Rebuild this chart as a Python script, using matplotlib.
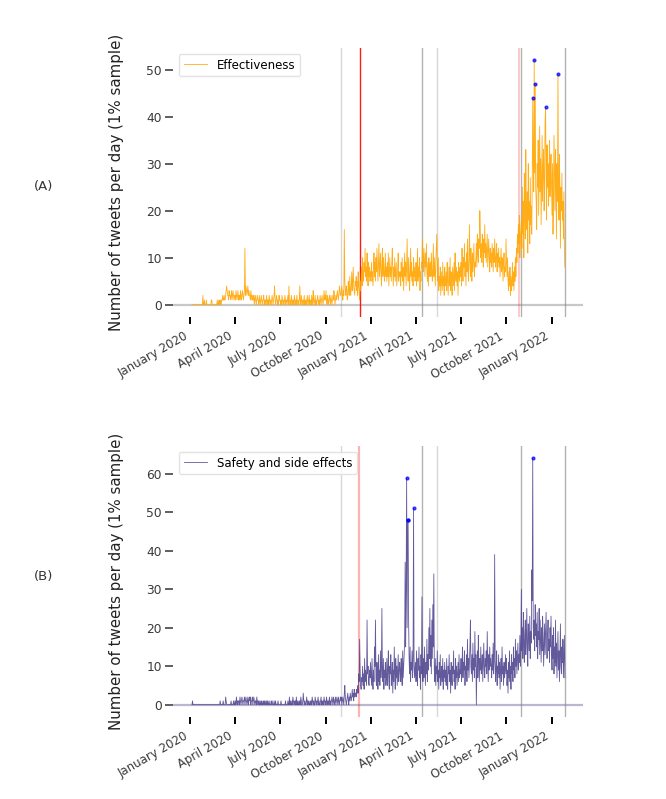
import pandas as pd
import matplotlib
matplotlib.use('Agg')
import matplotlib.pyplot as plt
import matplotlib.dates as mdates

# tweets per day (1% sample), one list per month, 2020-01-05 .. 2022-01-28
eff_jan20 = [0,0,0,0,0,0,0,0,0,0,0,0,0,0,0,0,0,0,0,0,0,0,2,0,0,1,0]
eff_feb20 = [0,0,1,0,0,0,0,0,0,0,0,0,1,1,0,0,0,0,0,0,0,0,0,0,1,0,0,1,0]
eff_mar20 = [1,0,1,0,1,1,2,1,1,2,1,1,2,3,4,3,2,2,1,3,2,2,1,2,3,1,2,3,2,1,2]
eff_apr20 = [2,1,3,2,1,2,3,1,2,2,1,3,2,1,2,3,2,1,2,3,12,2,4,3,2,3,4,2,3,2]
eff_may20 = [2,1,3,2,1,2,1,1,2,0,1,2,1,0,1,2,1,1,0,2,1,0,1,2,1,0,1,1,2,0,1]
eff_jun20 = [1,0,1,2,0,1,1,0,2,1,0,1,0,1,2,1,0,1,2,4,1,0,1,2,1,0,1,0,2,1]
eff_jul20 = [1,0,1,0,2,1,0,1,0,1,2,0,1,1,0,1,2,0,4,1,0,1,0,2,1,0,1,1,0,2,1]
eff_aug20 = [0,1,0,2,1,0,1,0,1,4,1,0,2,1,0,1,0,1,2,0,1,0,1,0,2,1,0,1,2,0,1]
eff_sep20 = [1,0,2,1,0,3,1,0,1,2,0,1,0,1,2,1,0,1,0,2,1,0,1,2,1,0,1,3,1,2]
eff_oct20 = [1,3,1,0,2,1,0,1,2,1,0,2,1,0,1,2,1,3,2,0,1,2,1,2,3,2,1,2,4,3,2]
eff_nov20 = [2,3,4,2,1,3,2,16,5,3,2,4,3,1,2,5,3,2,6,3,2,4,7,3,5,8,4,3,2,5]
eff_dec20 = [4,6,3,5,2,7,4,3,1,5,3,6,8,4,10,6,5,9,7,12,6,8,5,11,7,4,9,6,8,5,7]
eff_jan21 = [6,9,5,7,4,8,11,6,9,5,10,7,12,8,5,9,13,6,8,11,7,4,9,12,6,10,8,5,7,11,6]
eff_feb21 = [8,5,9,6,11,4,7,10,6,8,5,9,12,7,4,8,6,10,5,7,9,4,6,8,11,5,7,6]
eff_mar21 = [7,4,9,6,10,5,8,3,7,11,6,9,4,8,14,7,5,10,6,3,8,12,6,9,5,7,4,10,6,8,5]
eff_apr21 = [6,9,4,7,12,5,8,6,10,3,7,5,9,8,14,10,7,12,9,6,11,8,13,7,5,9,4,10,6,8]
eff_may21 = [9,6,11,7,5,8,13,6,10,7,4,9,12,15,8,5,10,3,6,4,8,2,7,5,3,9,4,6,2,8,5]
eff_jun21 = [4,7,3,9,5,2,6,8,4,10,3,7,5,2,8,6,4,9,3,11,6,5,8,4,7,2,9,6,5,8]
eff_jul21 = [6,9,4,12,7,5,10,8,13,6,9,4,11,7,14,8,5,10,17,9,6,12,8,5,11,7,10,13,6,9,8]
eff_aug21 = [10,13,8,15,11,9,14,12,20,16,10,13,9,15,12,8,14,11,17,10,13,9,12,15,8,11,14,10,7,12,9]
eff_sep21 = [11,8,13,10,7,12,9,14,11,8,10,13,7,11,9,12,8,10,6,9,12,7,10,8,5,9,11,6,8,7]
eff_oct21 = [14,9,6,10,5,3,7,4,8,2,6,3,5,9,4,7,3,8,5,10,6,12,9,15,11,17,13,19,10,14,16]
eff_nov21 = [18,12,25,15,22,10,28,19,14,33,20,16,24,11,30,18,22,13,27,17,21,15,26,44,30,24,52,28,47,25]
eff_dec21 = [22,16,30,25,35,19,28,38,24,31,17,27,36,22,29,33,20,26,39,42,28,18,34,25,30,21,27,35,23,29,32]
eff_jan22 = [26,19,30,15,24,36,28,20,33,25,14,30,22,49,27,18,32,24,12,25,20,28,18,22,14,24,12,8]

saf_jan20 = [0,1,0,0,0,0,0,0,0,0,0,0,0,0,0,0,0,0,0,0,0,0,0,0,0,0,0]
saf_feb20 = [0,0,0,0,0,0,0,0,0,0,0,0,0,0,0,0,0,0,0,0,0,0,0,0,0,0,0,0,0]
saf_mar20 = [0,1,0,0,0,0,0,1,0,0,0,0,2,1,0,0,0,0,0,0,0,0,0,1,0,0,0,0,1,0,0]
saf_apr20 = [1,0,1,2,0,1,0,1,1,0,2,1,0,1,2,1,0,1,1,2,0,1,2,1,0,1,2,0,1,2]
saf_may20 = [1,2,0,1,1,2,0,1,2,1,0,1,1,0,2,1,0,1,0,1,0,0,1,0,1,0,0,1,0,1,0]
saf_jun20 = [1,0,0,1,0,1,0,0,1,0,0,0,1,0,1,0,0,0,1,0,0,1,0,0,0,0,1,0,0,0]
saf_jul20 = [0,0,1,0,0,0,0,0,0,0,0,1,0,0,0,0,1,0,0,2,0,1,0,0,1,0,2,1,0,1,0]
saf_aug20 = [1,0,2,0,1,0,0,1,0,1,0,2,1,0,0,1,3,1,0,1,0,0,1,2,0,1,0,1,0,0,1]
saf_sep20 = [0,1,0,2,1,0,1,0,0,2,1,0,1,0,1,2,0,1,0,0,1,2,0,1,0,1,0,2,1,0]
saf_oct20 = [1,0,2,1,0,1,0,1,2,0,1,0,1,2,1,0,2,1,0,1,2,0,1,2,1,0,2,1,0,1,2]
saf_nov20 = [1,2,0,1,2,1,0,3,5,2,1,0,1,2,3,1,0,2,1,3,2,1,2,4,2,3,1,4,2,3]
saf_dec20 = [3,2,4,3,5,3,8,6,17,9,5,4,7,6,10,5,8,4,12,6,9,7,5,22,8,10,6,5,9,7,11]
saf_jan21 = [8,5,12,7,4,9,6,15,10,22,7,5,11,8,4,13,6,9,5,14,7,10,25,8,6,12,4,9,7,11,5]
saf_feb21 = [7,12,5,9,14,6,4,10,8,13,5,7,11,3,9,6,15,8,4,12,7,10,5,9,13,6,8,11]
saf_mar21 = [9,6,12,8,5,14,7,10,13,17,37,15,30,59,20,48,48,22,12,8,15,6,11,9,14,7,10,51,12,7,9]
saf_apr21 = [11,6,14,8,5,12,9,15,7,10,4,13,8,28,9,6,12,7,15,10,5,11,8,17,6,13,9,20,12,25]
saf_may21 = [10,18,8,22,12,26,15,34,9,6,12,5,10,8,14,6,9,4,11,7,13,5,8,10,6,12,4,9,7,11,6]
saf_jun21 = [9,5,12,7,4,10,8,13,6,9,3,11,7,5,10,8,14,6,9,4,12,7,10,5,8,11,6,13,7,9]
saf_jul21 = [8,12,6,10,15,7,11,9,14,5,10,8,13,6,17,9,12,7,11,15,22,10,8,13,6,16,9,12,7,19,10]
saf_aug21 = [13,0,9,14,7,18,11,6,12,9,15,8,10,13,6,11,16,9,7,12,10,14,8,19,11,6,13,9,15,10,12]
saf_sep21 = [10,7,13,9,16,8,11,39,12,6,9,14,5,10,8,13,7,11,4,9,12,6,15,8,10,5,11,7,9,13]
saf_oct21 = [8,12,5,9,3,11,7,14,6,10,4,13,8,11,6,15,9,12,7,17,10,14,8,12,16,9,13,11,18,10,15]
saf_nov21 = [30,14,20,12,24,16,11,19,22,13,17,25,15,10,21,18,14,23,12,19,16,35,27,64,20,17,22,14,26,18]
saf_dec21 = [21,15,24,12,19,17,25,13,22,16,11,20,14,23,18,10,15,21,13,19,24,16,12,18,22,14,17,11,20,15,23]
saf_jan22 = [14,9,18,12,20,8,15,11,22,10,16,7,13,19,9,14,6,12,21,10,8,15,11,17,7,13,18,7]

eff_peaks = ['2021-11-24', '2021-11-27', '2021-11-29', '2021-12-20', '2022-01-14']
saf_peaks = ['2021-03-14', '2021-03-16', '2021-03-17', '2021-03-28', '2021-11-24']

tick_dates = pd.date_range('2020-01-01', '2022-01-01', freq='QS')

days = pd.date_range('2020-01-05', '2022-01-28', freq='D')
eff = pd.Series(eff_jan20 + eff_feb20 + eff_mar20 + eff_apr20 + eff_may20 + eff_jun20
                + eff_jul20 + eff_aug20 + eff_sep20 + eff_oct20 + eff_nov20 + eff_dec20
                + eff_jan21 + eff_feb21 + eff_mar21 + eff_apr21 + eff_may21 + eff_jun21
                + eff_jul21 + eff_aug21 + eff_sep21 + eff_oct21 + eff_nov21 + eff_dec21
                + eff_jan22, index=days)
saf = pd.Series(saf_jan20 + saf_feb20 + saf_mar20 + saf_apr20 + saf_may20 + saf_jun20
                + saf_jul20 + saf_aug20 + saf_sep20 + saf_oct20 + saf_nov20 + saf_dec20
                + saf_jan21 + saf_feb21 + saf_mar21 + saf_apr21 + saf_may21 + saf_jun21
                + saf_jul21 + saf_aug21 + saf_sep21 + saf_oct21 + saf_nov21 + saf_dec21
                + saf_jan22, index=days)


def style_axis(ax, ymax, ytop, zero_col):
    '''axes sans cadre, ticks façon seaborn'''
    for s in ax.spines.values():
        s.set_visible(False)
    ax.axhline(0, color=zero_col, lw=1.6, zorder=0)
    t0 = mdates.date2num(pd.Timestamp('2020-01-01'))
    ppd = 181 / 366.0
    ax.set_xlim(t0 - 17 / ppd, t0 + 393 / ppd)
    ax.set_ylim(-ytop * 0.05, ytop * 1.05)
    ax.set_xticks(tick_dates)
    ax.set_xticklabels([d.strftime('%B %Y') for d in tick_dates], rotation=30, ha='right',
                       fontsize=8.5, color='#3a3a3a')
    ax.set_yticks(range(0, ymax + 1, 10))
    ax.tick_params(axis='y', length=6, width=1.1, color='#333333', labelsize=8.8,
                   labelcolor='#3a3a3a', pad=2)
    ax.tick_params(axis='x', length=5, width=1.4, color='black', pad=4)
    ax.set_ylabel('Number of tweets per day (1% sample)', fontsize=10.8, color='#222222')
    ax.yaxis.set_label_coords(-0.12, 0.5)


fig = plt.figure(figsize=(6.66, 7.99), dpi=100)
ax1 = fig.add_axes([0.2598, 0.6033, 0.6156, 0.3367])
ax2 = fig.add_axes([0.2598, 0.1026, 0.6156, 0.3392])

# (A) efficacité
style_axis(ax1, 50, 52, '#c8c8c8')
ax1.axvline(pd.Timestamp('2020-11-02'), color='gray', alpha=0.3, lw=1)
ax1.axvline(pd.Timestamp('2020-12-10'), color='red', alpha=0.9, lw=1)
ax1.axvline(pd.Timestamp('2021-04-14'), color='gray', alpha=0.6, lw=1)
ax1.axvline(pd.Timestamp('2021-05-14'), color='gray', alpha=0.3, lw=1)
ax1.axvline(pd.Timestamp('2021-10-27'), color='red', alpha=0.25, lw=1.2)
ax1.axvline(pd.Timestamp('2021-10-31'), color='gray', alpha=0.6, lw=1)
ax1.axvline(pd.Timestamp('2022-01-28'), color='gray', alpha=0.6, lw=1)
ax1.plot(eff.index, eff.values, color='orange', lw=0.6, alpha=0.9, label='Effectiveness')
pk = pd.to_datetime(eff_peaks)
ax1.plot(pk, eff.loc[pk].values, 'o', color='blue', ms=2, alpha=0.7)
leg = ax1.legend(loc='upper left', fontsize=8.5)
leg.get_frame().set_edgecolor('#dddddd')

# (B) sécurité et effets secondaires
style_axis(ax2, 60, 64, '#b8b8d0')
ax2.axvline(pd.Timestamp('2020-11-02'), color='gray', alpha=0.3, lw=1)
ax2.axvline(pd.Timestamp('2020-12-07'), color='red', alpha=0.3, lw=1.6)
ax2.axvline(pd.Timestamp('2021-04-14'), color='gray', alpha=0.6, lw=1)
ax2.axvline(pd.Timestamp('2021-05-14'), color='gray', alpha=0.3, lw=1)
ax2.axvline(pd.Timestamp('2021-10-31'), color='gray', alpha=0.6, lw=1)
ax2.axvline(pd.Timestamp('2022-01-28'), color='gray', alpha=0.6, lw=1)
ax2.plot(saf.index, saf.values, color='darkslateblue', lw=0.6, alpha=0.85,
         label='Safety and side effects')
pk = pd.to_datetime(saf_peaks)
ax2.plot(pk, saf.loc[pk].values, 'o', color='blue', ms=2, alpha=0.7)
leg = ax2.legend(loc='upper left', fontsize=8.5)
leg.get_frame().set_edgecolor('#dddddd')

fig.text(0.065, 0.766, '(A)', fontsize=9.5, ha='center', va='center', color='#333333')
fig.text(0.065, 0.278, '(B)', fontsize=9.5, ha='center', va='center', color='#333333')

fig.savefig('out.png', dpi=100)
